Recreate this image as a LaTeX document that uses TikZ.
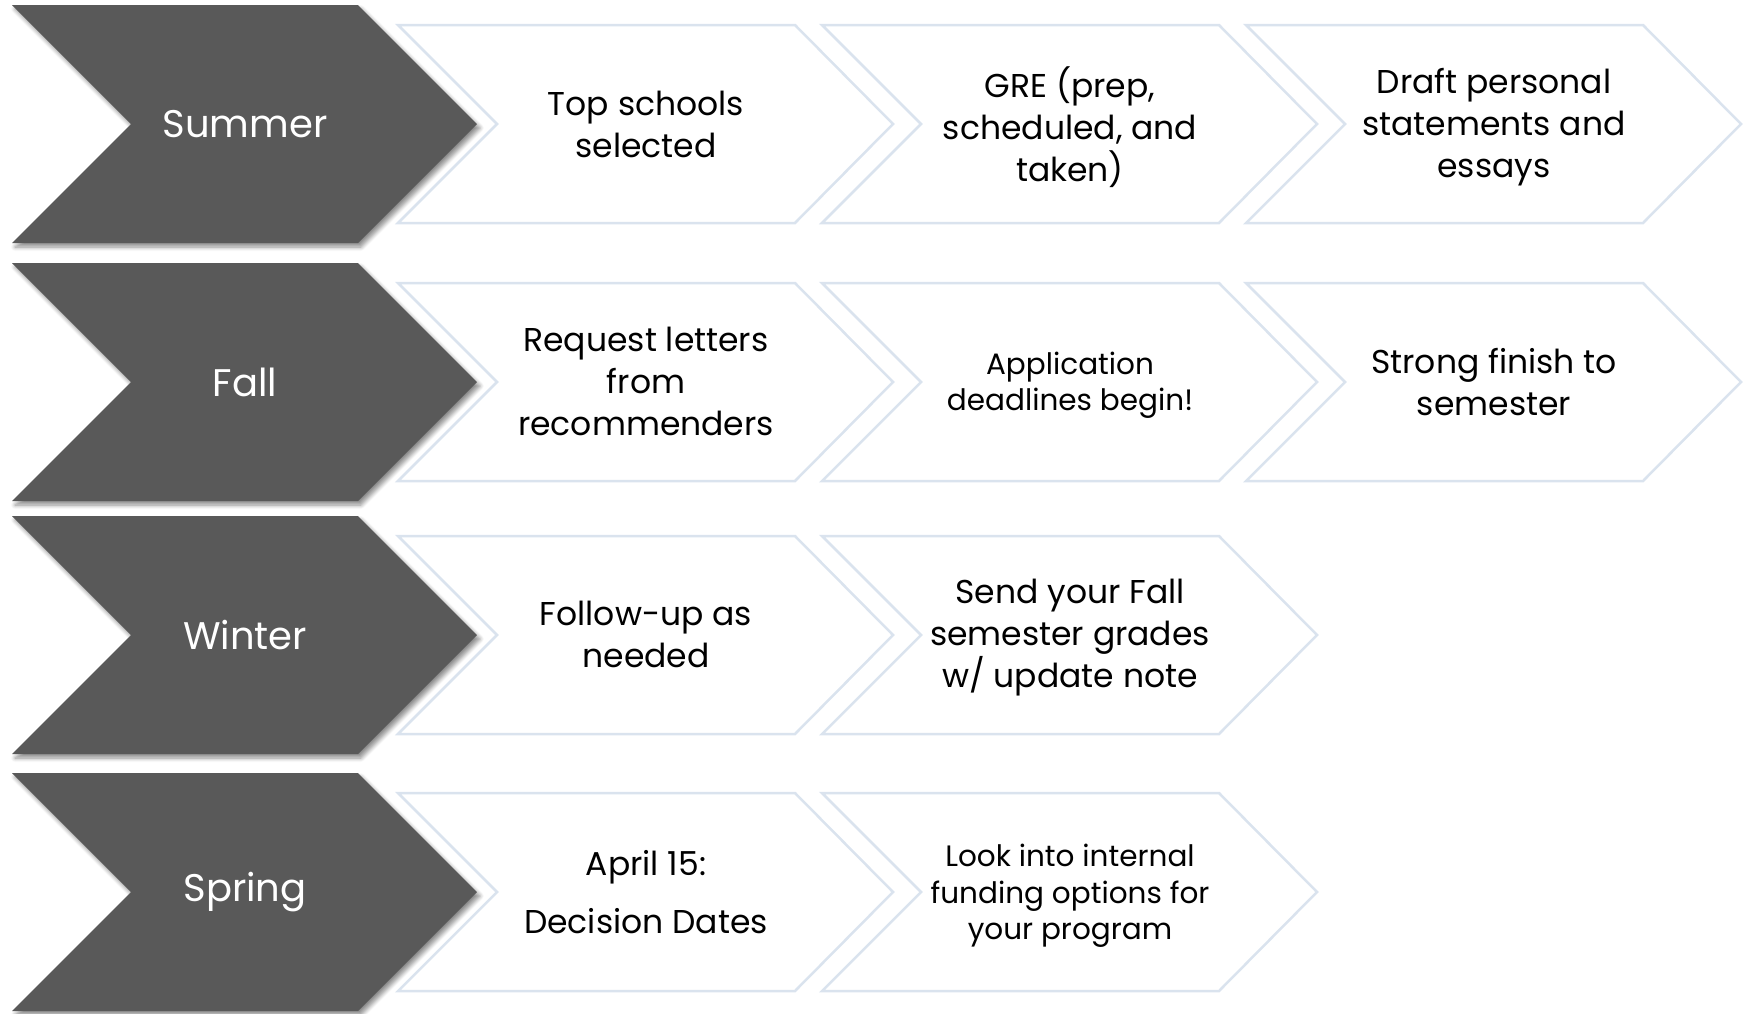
\documentclass[tikz,border=0pt]{standalone}
\usepackage{fontspec}
\setmainfont{Poppins}
\usetikzlibrary{shadows.blur}
\definecolor{chevdark}{RGB}{89,89,89}
\definecolor{chevline}{RGB}{218,227,238}
\tikzset{
  season/.style={text=white, font=\fontsize{38.5}{46}\selectfont, align=center},
  task/.style={text=black, font=\fontsize{33}{42}\selectfont, align=center},
  tasksmall/.style={text=black, font=\fontsize{29.5}{36.5}\selectfont, align=center},
  darkchev/.style={fill=chevdark, draw=none,
    blur shadow={shadow xshift=3pt, shadow yshift=-4pt, shadow blur steps=6,
      shadow blur radius=4pt, shadow opacity=45}},
  lightchev/.style={fill=white, draw=chevline, line width=2.5pt, line join=miter}
}
\newcommand{\darkchevron}[1]{%
  \path[darkchev] (12,#1-119) -- (358,#1-119) -- (477,#1) -- (358,#1+119)
    -- (12,#1+119) -- (131,#1) -- cycle;}
\newcommand{\lightchevron}[2]{%
  \draw[lightchev] (#1,#2-99) -- (#1+397,#2-99) -- (#1+495,#2) -- (#1+397,#2+99)
    -- (#1,#2+99) -- (#1+99,#2) -- cycle;}
\begin{document}
\begin{tikzpicture}[x=1pt, y=-1pt, line join=round]
\useasboundingbox (0,0) rectangle (1746,1013);
% light chevrons first, dark ones over them
\lightchevron{398}{124} \lightchevron{822}{124} \lightchevron{1246}{124}
\lightchevron{398}{382} \lightchevron{822}{382} \lightchevron{1246}{382}
\lightchevron{398}{635} \lightchevron{822}{635}
\lightchevron{398}{892} \lightchevron{822}{892}
\darkchevron{124} \darkchevron{382} \darkchevron{635} \darkchevron{892}
% seasons
\node[season] (summer) at (245,124) {Summer};
\node[season] (fall) at (245,382) {Fall};
\node[season] (winter) at (245,635) {Winter};
\node[season] (spring) at (245,892) {Spring};
% summer
\node[task] (sum-a) at (646,124) {Top schools\\selected};
\node[task] (sum-b) at (1070,127) {GRE (prep,\\scheduled, and\\taken)};
\node[task] (sum-c) at (1494,127) {Draft personal\\statements and\\essays};
% fall
\node[task] (fal-a) at (646,381) {Request letters\\from\\recommenders};
\node[tasksmall] (fal-b) at (1070,385) {Application\\deadlines begin!};
\node[task] (fal-c) at (1494,382) {Strong finish to\\semester};
% winter
\node[task] (win-a) at (646,634) {Follow-up as\\needed};
\node[task] (win-b) at (1070,638) {Send your Fall\\semester grades\\w/ update note};
% spring
\node[task, font=\fontsize{33}{58}\selectfont] (spr-a) at (646,892) {April 15:\\Decision Dates};
\node[tasksmall] (spr-b) at (1070,896) {Look into internal\\funding options for\\your program};
\end{tikzpicture}
\end{document}
